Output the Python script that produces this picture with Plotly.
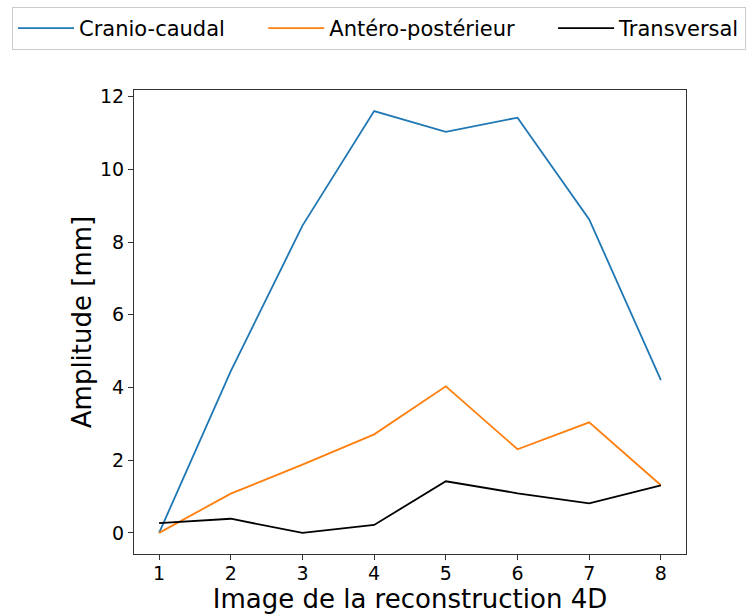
import plotly.graph_objects as go

# Image index of the 4D reconstruction
frames = [1, 2, 3, 4, 5, 6, 7, 8]

# Motion amplitude (mm) along each direction
cranio_caudal = [0.0, 4.45, 8.45, 11.6, 11.03, 11.42, 8.62, 4.2]
antero_posterieur = [0.0, 1.08, 1.88, 2.71, 4.03, 2.3, 3.04, 1.31]
transversal = [0.27, 0.39, 0.0, 0.22, 1.42, 1.09, 0.81, 1.31]

NBSP = "\u00a0"
series = [
    ("Cranio-caudal", cranio_caudal, "#1f77b4", 5),
    ("Antéro-postérieur", antero_posterieur, "#ff7f0e", 5),
    ("Transversal", transversal, "#000000", 0),
]

FONT = "DejaVu Sans"
W, H = 749, 614
L, R, T, B = 134, 0, 90, 60
PLOT_RIGHT = 686  # right edge of the axes box, px

fig = go.Figure()
for name, values, color, pad in series:
    fig.add_trace(go.Scatter(
        x=frames, y=values, name=name + NBSP * pad, mode="lines",
        line=dict(color=color, width=1.8),
    ))

axis_common = dict(
    showgrid=False, zeroline=False,
    showline=True, linecolor="#333333", linewidth=1, mirror=True,
    ticks="outside", ticklen=5, tickwidth=1, tickcolor="#333333",
    tickfont=dict(family=FONT, size=19, color="black"),
)

plot_w = W - L - R
fig.update_xaxes(
    domain=[0, (PLOT_RIGHT - L) / plot_w],
    range=[0.65, 8.35], tickmode="array", tickvals=frames,
    ticklabelstandoff=-3,
    title=dict(text="Image de la reconstruction 4D",
               font=dict(family=FONT, size=26, color="black"), standoff=8),
    **axis_common,
)
fig.update_yaxes(
    range=[-0.58, 12.18], tickmode="array", tickvals=[0, 2, 4, 6, 8, 10, 12],
    title=dict(text="Amplitude [mm]",
               font=dict(family=FONT, size=26, color="black"), standoff=0),
    **axis_common,
)

plot_h = H - T - B
fig.update_layout(
    width=W, height=H,
    margin=dict(l=L, r=R, t=T, b=B),
    paper_bgcolor="white", plot_bgcolor="white",
    font=dict(family=FONT, color="black"),
    showlegend=True,
    legend=dict(
        orientation="h",
        x=(12 - L) / plot_w, y=1 + (T - 7) / plot_h,
        xanchor="left", yanchor="top",
        bordercolor="#cccccc", borderwidth=1,
        font=dict(family=FONT, size=21, color="black"),
        itemwidth=56,
    ),
)

fig.write_html("out.html")
